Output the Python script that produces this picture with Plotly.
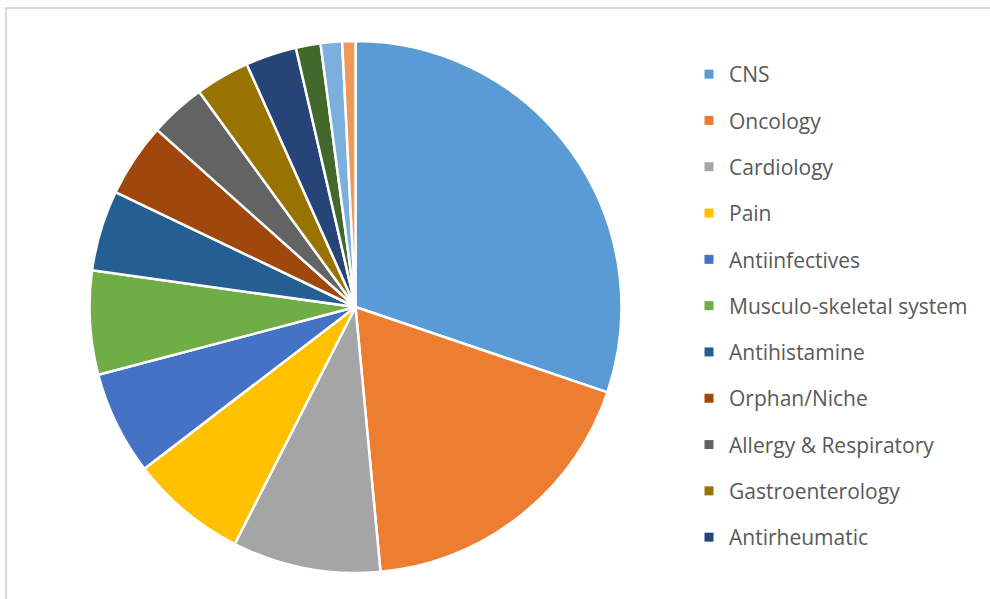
import plotly.graph_objects as go

# The reference legend is cut off after 11 entries, so the names of the last
# three (smallest) slices cannot be read. "Dermatology", "Ophthalmology" and
# "Other" are PLACEHOLDER names only; they appear only in hover text.
labels = ["CNS", "Oncology", "Cardiology", "Pain", "Antiinfectives",
          "Musculo-skeletal system", "Antihistamine", "Orphan/Niche",
          "Allergy & Respiratory", "Gastroenterology", "Antirheumatic",
          "Dermatology", "Ophthalmology", "Other"]
# Shares (%) in the reference image.
values = [30.2, 18.3, 9.0, 7.1, 6.3, 6.3, 4.9, 4.5, 3.4, 3.3, 3.1, 1.5, 1.3, 0.8]
colors = ["#5B9BD5", "#ED7D31", "#A5A5A5", "#FFC000", "#4472C4", "#70AD47",
          "#255E91", "#9E480E", "#636363", "#997300", "#264478", "#43682B",
          "#7CAFDD", "#F1975A"]
legend_count = 11  # legend in the reference is cut after 11 entries

W, H = 990, 599
cx, cy, r = 355.5, 307, 266

fig = go.Figure()
fig.add_trace(go.Pie(
    labels=labels, values=values, sort=False, direction="clockwise", rotation=0,
    marker=dict(colors=colors, line=dict(color="white", width=2.5)),
    textinfo="none", hoverinfo="label+percent", showlegend=False,
    domain=dict(x=[(cx - r) / W, (cx + r) / W], y=[1 - (cy + r) / H, 1 - (cy - r) / H]),
))
for i in range(legend_count):
    fig.add_trace(go.Scatter(
        x=[None], y=[None], mode="markers", name=labels[i],
        legendgroup=f"g{i}",
        marker=dict(symbol="square", size=9, color=colors[i]),
    ))

fig.update_layout(
    width=W, height=H, margin=dict(l=0, r=0, t=0, b=0),
    paper_bgcolor="white", plot_bgcolor="white",
    xaxis=dict(visible=False), yaxis=dict(visible=False),
    font=dict(family="Open Sans", size=21, color="#595959"),
    legend=dict(x=689 / W, y=1 - 54 / H, xanchor="left", yanchor="top",
                tracegroupgap=16, itemwidth=30, bgcolor="rgba(0,0,0,0)"),
    shapes=[dict(type="rect", xref="paper", yref="paper",
                 x0=6 / W, x1=1.02, y0=-0.02, y1=1 - 8 / H,
                 line=dict(color="#D9D9D9", width=2))],
)
fig.write_html("out.html")
